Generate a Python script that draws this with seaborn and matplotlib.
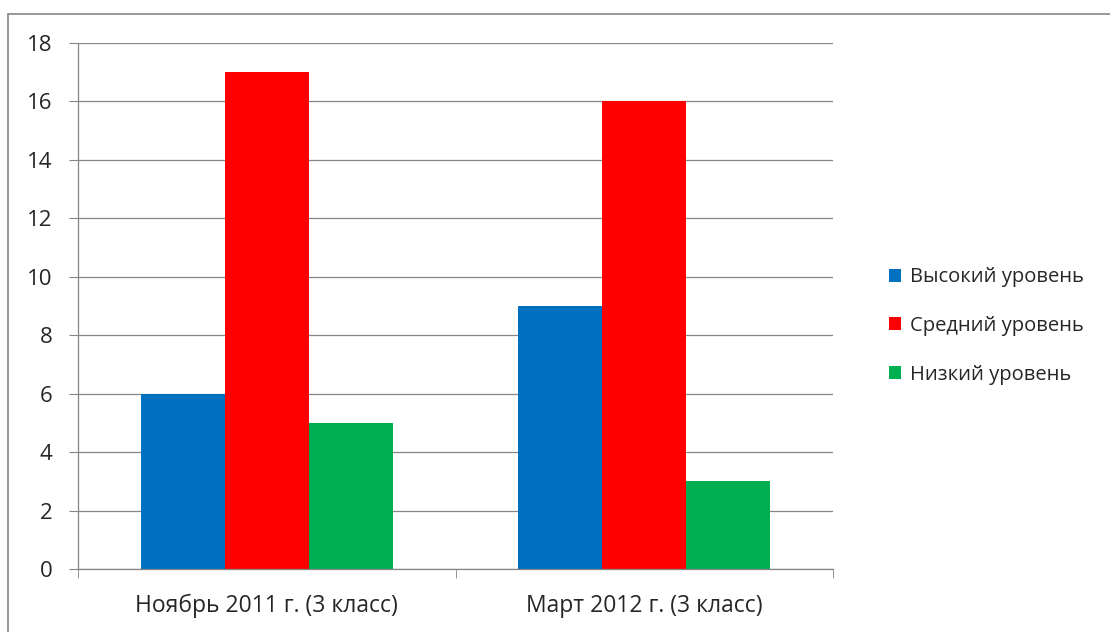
import matplotlib
matplotlib.use("Agg")
import matplotlib.pyplot as plt
import pandas as pd
import seaborn as sns
from matplotlib.lines import Line2D

# Data
periods = ["Ноябрь 2011 г. (3 класс)", "Март 2012 г. (3 класс)"]
levels = ["Высокий уровень", "Средний уровень", "Низкий уровень"]
high = [6, 9]
medium = [17, 16]
low = [5, 3]
colors = ["#0070C0", "#FF0000", "#00B050"]
yticks = [0, 2, 4, 6, 8, 10, 12, 14, 16, 18]

sns.set_style("white")
plt.rcParams["font.family"] = ["Open Sans", "DejaVu Sans"]

df = pd.DataFrame({
    "period": periods * 3,
    "level": [levels[0]] * 2 + [levels[1]] * 2 + [levels[2]] * 2,
    "value": high + medium + low,
})

fig = plt.figure(figsize=(11.1, 6.32), dpi=100)
ax = fig.add_axes([0.0703, 0.0997, 0.6802, 0.8323])

sns.barplot(data=df, x="period", y="value", hue="level", palette=colors,
            width=0.667, gap=0, saturation=1, ax=ax, linewidth=0, errorbar=None)

ax.set_ylim(0, 18)
ax.set_xlim(-0.5, 1.5)
ax.set_yticks(yticks)
ax.set_xlabel("")
ax.set_ylabel("")
ax.yaxis.grid(True, color="#868686", linewidth=0.9)
ax.set_axisbelow(True)

for side in ["top", "right"]:
    ax.spines[side].set_visible(False)
for side in ["left", "bottom"]:
    ax.spines[side].set_color("#868686")
    ax.spines[side].set_linewidth(0.9)

ax.tick_params(axis="y", which="major", length=6.5, color="#868686",
               labelsize=16, pad=12, left=True)
ax.tick_params(axis="x", which="major", length=0, labelsize=16.5, pad=18)
ax.set_xticks([-0.5, 0.5, 1.5], minor=True)
ax.tick_params(axis="x", which="minor", length=6.5, color="#868686", bottom=True)

handles, labels = ax.get_legend_handles_labels()
ax.legend(handles, labels, loc="center left", bbox_to_anchor=(1.05, 0.462),
          frameon=False, fontsize=14.5, handlelength=0.6, handleheight=0.6,
          handletextpad=0.45, labelspacing=1.42)

# outer chart border (left and top edges visible)
border = "#868686"
fig.lines.append(Line2D([8 / 1110, 8 / 1110], [0, 1 - 13.5 / 632],
                        transform=fig.transFigure, color=border, linewidth=1.2))
fig.lines.append(Line2D([8 / 1110, 1], [1 - 13.5 / 632, 1 - 13.5 / 632],
                        transform=fig.transFigure, color=border, linewidth=1.2))

fig.savefig("out.png", dpi=100)
